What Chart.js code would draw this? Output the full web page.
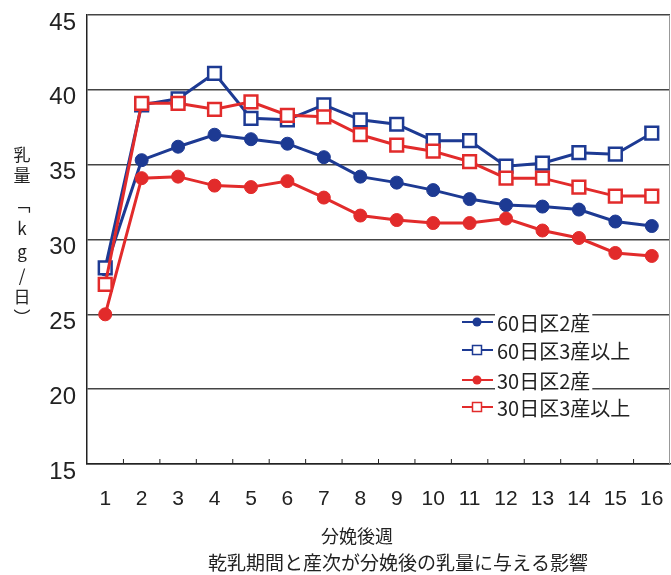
<!DOCTYPE html>
<html lang="ja">
<head>
<meta charset="UTF-8">
<title>乾乳期間と産次が分娩後の乳量に与える影響</title>
<script src="https://cdn.jsdelivr.net/npm/chart.js"></script>
<style>
  body { margin: 0; background: #fff; }
  #wrap { width: 671px; height: 575px; }
</style>
</head>
<body>
<div id="wrap"><canvas id="milkChart" width="671" height="575"></canvas></div>
<script>
// 分娩後週
const weeks = ['1','2','3','4','5','6','7','8','9','10','11','12','13','14','15','16'];
// 乳量 (kg/日)
const d60p2 = [28.0, 35.3, 36.2, 37.0, 36.7, 36.4, 35.5, 34.2, 33.8, 33.3, 32.7, 32.3, 32.2, 32.0, 31.2, 30.9];
const d60p3 = [28.1, 39.0, 39.4, 41.1, 38.1, 38.0, 39.0, 38.0, 37.7, 36.6, 36.6, 34.9, 35.1, 35.8, 35.7, 37.1];
const d30p2 = [25.0, 34.1, 34.2, 33.6, 33.5, 33.9, 32.8, 31.6, 31.3, 31.1, 31.1, 31.4, 30.6, 30.1, 29.1, 28.9];
const d30p3 = [27.0, 39.1, 39.1, 38.7, 39.2, 38.3, 38.2, 37.0, 36.3, 35.9, 35.2, 34.1, 34.1, 33.5, 32.9, 32.9];
const seriesNames = ['60日区2産', '60日区3産以上', '30日区2産', '30日区3産以上'];
const yTicks = [15, 20, 25, 30, 35, 40, 45];

const BLUE = '#1d3a93';
const RED = '#e22b2b';
const FONT = "'Liberation Sans', 'Noto Sans CJK JP', sans-serif";
const JP = "'Noto Sans CJK JP', sans-serif";

// 凡例・軸タイトル・目盛りを手描き
const extras = {
  id: 'extras',
  afterDraw(chart) {
    const ctx = chart.ctx;
    const area = chart.chartArea;
    const x = chart.scales.x;
    ctx.save();

    // 右枠
    ctx.strokeStyle = '#999';
    ctx.lineWidth = 1;
    ctx.beginPath();
    ctx.moveTo(area.right - 0.5, area.top);
    ctx.lineTo(area.right - 0.5, area.bottom);
    ctx.stroke();

    // x軸の内向き目盛り
    ctx.strokeStyle = '#222';
    ctx.lineWidth = 1;
    for (let i = 0; i < weeks.length - 1; i++) {
      const px = (x.getPixelForValue(i) + x.getPixelForValue(i + 1)) / 2;
      ctx.beginPath();
      ctx.moveTo(px, area.bottom);
      ctx.lineTo(px, area.bottom - 5);
      ctx.stroke();
    }

    // 凡例
    const rows = [322, 350, 380, 407];
    ctx.font = '20px ' + JP;
    ctx.textBaseline = 'middle';
    ctx.textAlign = 'left';
    chart.data.datasets.forEach((ds, i) => {
      const y = rows[i];
      const tw = ctx.measureText(ds.label).width;
      ctx.fillStyle = '#fff';
      ctx.fillRect(495, y - 12, tw + 4, 24);
      ctx.strokeStyle = ds.borderColor;
      ctx.lineWidth = 2;
      ctx.beginPath();
      ctx.moveTo(462, y);
      ctx.lineTo(493, y);
      ctx.stroke();
      if (ds.pointStyle === 'rect') {
        ctx.fillStyle = '#fff';
        ctx.fillRect(472.5, y - 4.5, 9, 9);
        ctx.lineWidth = 1.5;
        ctx.strokeRect(472.5, y - 4.5, 9, 9);
      } else {
        ctx.fillStyle = ds.borderColor;
        ctx.beginPath();
        ctx.arc(477, y, 4.5, 0, Math.PI * 2);
        ctx.fill();
      }
      ctx.fillStyle = '#222';
      ctx.fillText(ds.label, 497, y + 1);
    });

    // y軸タイトル(縦書き)
    const chars = [['乳', 155], ['量', 176], ['﹁', 205], ['k', 229], ['g', 252], ['/', 276], ['日', 297], ['︶', 318]];
    ctx.font = '17px ' + JP;
    ctx.textAlign = 'center';
    ctx.fillStyle = '#222';
    chars.forEach(([c, y]) => ctx.fillText(c, 22, y));

    // x軸タイトルと図題
    ctx.font = '18px ' + JP;
    ctx.fillText('分娩後週', 357, 536);
    ctx.font = '19px ' + JP;
    ctx.fillText('乾乳期間と産次が分娩後の乳量に与える影響', 398, 563);
    ctx.restore();
  }
};

new Chart(document.getElementById('milkChart'), {
  type: 'line',
  data: {
    labels: weeks,
    datasets: [
      { label: seriesNames[0], data: d60p2, borderColor: BLUE, backgroundColor: BLUE,
        pointStyle: 'circle', pointRadius: 6.5, borderWidth: 3, pointBorderWidth: 1, order: 3 },
      { label: seriesNames[1], data: d60p3, borderColor: BLUE, backgroundColor: '#fff',
        pointStyle: 'rect', pointRadius: 9, borderWidth: 3, pointBorderWidth: 2.5, order: 1 },
      { label: seriesNames[2], data: d30p2, borderColor: RED, backgroundColor: RED,
        pointStyle: 'circle', pointRadius: 6.5, borderWidth: 3, pointBorderWidth: 1, order: 2 },
      { label: seriesNames[3], data: d30p3, borderColor: RED, backgroundColor: '#fff',
        pointStyle: 'rect', pointRadius: 9, borderWidth: 3, pointBorderWidth: 2.5, order: 0 }
    ]
  },
  options: {
    responsive: false,
    animation: false,
    layout: { autoPadding: false, padding: { top: 15, right: 1, left: 0, bottom: 0 } },
    plugins: {
      legend: { display: false },
      tooltip: { enabled: false }
    },
    scales: {
      x: {
        type: 'category',
        offset: true,
        grid: { display: false, drawTicks: false },
        border: { display: true, color: '#222', width: 1.5 },
        ticks: { color: '#222', font: { family: FONT, size: 21 }, padding: 23, maxRotation: 0, autoSkip: false },
        afterFit: s => { s.height = 111; s.paddingLeft = 0; s.paddingRight = 0; }
      },
      y: {
        min: 15,
        max: 45,
        afterBuildTicks: s => { s.ticks = yTicks.map(v => ({ value: v })); },
        grid: { color: '#444', lineWidth: 1.5, drawTicks: false },
        border: { display: true, color: '#222', width: 1.5 },
        ticks: { color: '#222', font: { family: FONT, size: 24 }, padding: 11, labelOffset: 8 },
        afterFit: s => { s.width = 87; s.paddingTop = 0; s.paddingBottom = 0; }
      }
    }
  },
  plugins: [extras]
});
</script>
</body>
</html>
